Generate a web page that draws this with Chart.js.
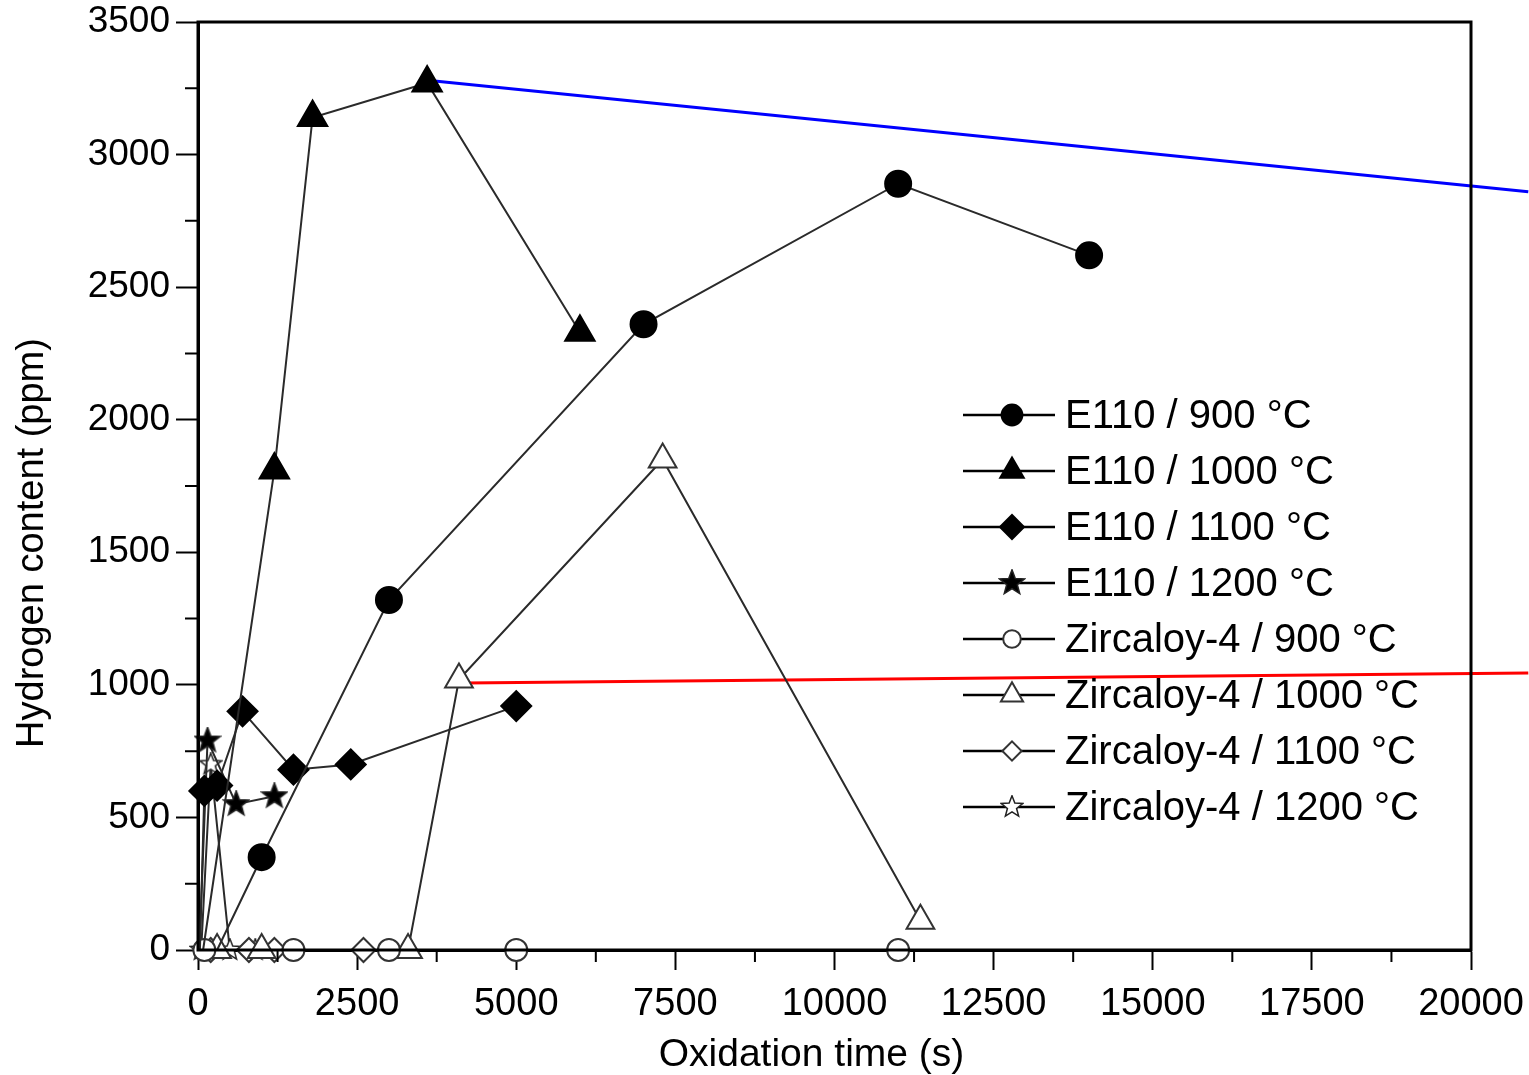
<!DOCTYPE html>
<html>
<head>
  <title>Hydrogen content vs oxidation time</title>
  <script src="https://cdn.jsdelivr.net/npm/chart.js"></script>
  <style>
    html, body { margin: 0; padding: 0; background: #fff; }
    .chart-container { width: 1529px; height: 1075px; }
  </style>
</head>
<body>
  <div class="chart-container">
    <canvas id="chart"></canvas>
  </div>

  <script>
    // oxidation time (s) / hydrogen content (ppm)
    const e110_900_t = [300, 1000, 3000, 7000, 11000, 14000];
    const e110_900_h = [0, 350, 1320, 2360, 2890, 2620];

    const e110_1000_t = [80, 1200, 1800, 3600, 6000];
    const e110_1000_h = [0, 1810, 3140, 3270, 2330];

    const e110_1100_t = [30, 100, 300, 700, 1500, 2400, 5000];
    const e110_1100_h = [0, 600, 620, 900, 680, 700, 920];

    const e110_1200_t = [20, 150, 600, 1200];
    const e110_1200_h = [0, 790, 550, 580];

    const zr_900_t = [100, 1500, 3000, 5000, 11000];
    const zr_900_h = [0, 0, 0, 0, 0];

    const zr_1000_t = [300, 1000, 3300, 4100, 7300, 11350];
    const zr_1000_h = [0, 0, 0, 1020, 1850, 110];

    const zr_1100_t = [200, 800, 1200, 2600];
    const zr_1100_h = [0, 0, 0, 0];

    const zr_1200_t = [50, 200, 500, 900];
    const zr_1200_h = [0, 700, 0, 0];

    // the two straight marker lines drawn over the figure
    const blue_t = [3600, 20900];
    const blue_h = [3280, 2860];
    const red_t = [4200, 20900];
    const red_h = [1007, 1045];

    const seriesLabels = [
      "E110 / 900 °C", "E110 / 1000 °C", "E110 / 1100 °C", "E110 / 1200 °C",
      "Zircaloy-4 / 900 °C", "Zircaloy-4 / 1000 °C", "Zircaloy-4 / 1100 °C", "Zircaloy-4 / 1200 °C"
    ];

    const xTitle = "Oxidation time (s)";
    const yTitle = "Hydrogen content (ppm)";

    const xTicks = [0, 2500, 5000, 7500, 10000, 12500, 15000, 17500, 20000];
    const yTicks = [0, 500, 1000, 1500, 2000, 2500, 3000, 3500];

    function toPoints(t, h) {
      return t.map((v, i) => ({ x: v, y: h[i] }));
    }

    // filled / open five point star as a point image
    function makeStar(size, fill) {
      const c = document.createElement("canvas");
      c.width = size; c.height = size;
      const g = c.getContext("2d");
      const cx = size / 2, cy = size / 2;
      g.beginPath();
      for (let i = 0; i < 10; i++) {
        const r = i % 2 ? size * 0.2 : size * 0.47;
        const a = -Math.PI / 2 + i * Math.PI / 5;
        if (i === 0) g.moveTo(cx + r * Math.cos(a), cy + r * Math.sin(a));
        else g.lineTo(cx + r * Math.cos(a), cy + r * Math.sin(a));
      }
      g.closePath();
      g.fillStyle = fill;
      g.fill();
      g.lineWidth = 1.5;
      g.strokeStyle = "#222";
      g.stroke();
      return c;
    }

    const starFilled = makeStar(28, "#000");
    const starOpen = makeStar(24, "#fff");

    // E110 series start on the axis without a visible marker
    function series(label, t, h, style, radius, filled) {
      return {
        label: label,
        data: toPoints(t, h),
        showLine: true,
        borderColor: "#2a2a2a",
        borderWidth: 2,
        pointStyle: style,
        pointRadius: filled ? t.map((v, i) => (i === 0 ? 0 : radius)) : radius,
        pointHoverRadius: radius,
        legendRadius: radius,
        pointBackgroundColor: filled ? "#000" : "#fff",
        pointBorderColor: filled ? "#000" : "#333",
        pointBorderWidth: 2,
        clip: false,
      };
    }

    function guide(t, h, color) {
      return {
        label: "",
        data: toPoints(t, h),
        showLine: true,
        borderColor: color,
        borderWidth: 3,
        pointRadius: 0,
        clip: false,
      };
    }

    const datasets = [
      series(seriesLabels[0], e110_900_t, e110_900_h, "circle", 13, true),
      series(seriesLabels[1], e110_1000_t, e110_1000_h, "triangle", 17, true),
      series(seriesLabels[2], e110_1100_t, e110_1100_h, "rectRot", 15, true),
      series(seriesLabels[3], e110_1200_t, e110_1200_h, starFilled, 13, true),
      series(seriesLabels[4], zr_900_t, zr_900_h, "circle", 11, false),
      series(seriesLabels[5], zr_1000_t, zr_1000_h, "triangle", 16, false),
      series(seriesLabels[6], zr_1100_t, zr_1100_h, "rectRot", 12, false),
      series(seriesLabels[7], zr_1200_t, zr_1200_h, starOpen, 12, false),
      guide(blue_t, blue_h, "#0000ff"),
      guide(red_t, red_h, "#ff0000"),
    ];

    // frame, minor ticks, axis titles and the in-plot legend
    const decorations = {
      id: "decorations",
      afterDraw(chart) {
        const ctx = chart.ctx;
        const a = chart.chartArea;
        const xs = chart.scales.x, ys = chart.scales.y;
        ctx.save();
        ctx.strokeStyle = "#000";
        ctx.lineWidth = 3;
        ctx.strokeRect(a.left, a.top, a.right - a.left, a.bottom - a.top);

        ctx.lineWidth = 2;
        ctx.beginPath();
        for (let i = 0; i < xTicks.length - 1; i++) {
          const px = xs.getPixelForValue((xTicks[i] + xTicks[i + 1]) / 2);
          ctx.moveTo(px, a.bottom);
          ctx.lineTo(px, a.bottom + 12);
        }
        for (let i = 0; i < yTicks.length - 1; i++) {
          const py = ys.getPixelForValue((yTicks[i] + yTicks[i + 1]) / 2);
          ctx.moveTo(a.left, py);
          ctx.lineTo(a.left - 13, py);
        }
        ctx.stroke();

        // axis titles (the original sits a little off centre)
        ctx.fillStyle = "#000";
        ctx.textAlign = "center";
        ctx.textBaseline = "middle";
        ctx.font = "39px 'Liberation Sans', Arial, sans-serif";
        ctx.fillText(xTitle, (a.left + a.right) / 2 - 23, a.bottom + 105);
        ctx.save();
        ctx.translate(a.left - 165, (a.top + a.bottom) / 2 + 57);
        ctx.rotate(-Math.PI / 2);
        ctx.font = "38px 'Liberation Sans', Arial, sans-serif";
        ctx.fillText(yTitle, 0, 0);
        ctx.restore();

        // legend
        const lx = a.left + 765, ly = a.top + 393, rowH = 56;
        ctx.font = "40px 'Liberation Sans', Arial, sans-serif";
        ctx.textAlign = "left";
        ctx.textBaseline = "middle";
        for (let i = 0; i < 8; i++) {
          const ds = datasets[i];
          const y = ly + i * rowH;
          ctx.strokeStyle = "#000";
          ctx.lineWidth = 2.5;
          ctx.beginPath();
          ctx.moveTo(lx, y);
          ctx.lineTo(lx + 92, y);
          ctx.stroke();
          ctx.fillStyle = ds.pointBackgroundColor;
          ctx.strokeStyle = ds.pointBorderColor;
          ctx.lineWidth = 2;
          Chart.helpers.drawPoint(ctx, {
            pointStyle: ds.pointStyle,
            radius: ds.legendRadius * 0.8,
            rotation: 0,
            borderWidth: 2,
          }, lx + 49, y);
          ctx.fillStyle = "#000";
          ctx.fillText(ds.label, lx + 102, y + 2);
        }
        ctx.restore();
      },
    };

    Chart.defaults.font.family = "'Liberation Sans', Arial, sans-serif";
    Chart.defaults.color = "#000";

    new Chart("chart", {
      type: "scatter",
      data: { datasets: datasets },
      options: {
        responsive: true,
        maintainAspectRatio: false,
        animation: false,
        events: [],
        layout: { padding: { left: 0, right: 58, top: 22, bottom: 0 } },
        plugins: {
          legend: { display: false },
          tooltip: { enabled: false },
        },
        scales: {
          x: {
            type: "linear",
            min: 0,
            max: 20000,
            afterBuildTicks: (scale) => { scale.ticks = xTicks.map((v) => ({ value: v })); },
            afterFit: (scale) => {
              scale.height = 125;
              scale.paddingLeft = 0;
              scale.paddingRight = 0;
            },
            ticks: { font: { size: 38 }, padding: 12, maxRotation: 0, callback: (v) => String(v) },
            grid: { drawOnChartArea: false, tickLength: 20, tickWidth: 2, tickColor: "#000" },
            border: { color: "#000", width: 3 },
          },
          y: {
            min: 0,
            max: 3500,
            afterBuildTicks: (scale) => { scale.ticks = yTicks.map((v) => ({ value: v })); },
            afterFit: (scale) => {
              scale.width = 198;
              scale.paddingTop = 0;
              scale.paddingBottom = 0;
            },
            ticks: { font: { size: 37 }, padding: 6, callback: (v) => String(v) },
            grid: { drawOnChartArea: false, tickLength: 22, tickWidth: 2, tickColor: "#000" },
            border: { color: "#000", width: 3 },
          },
        },
      },
      plugins: [decorations],
    });
  </script>
</body>
</html>
